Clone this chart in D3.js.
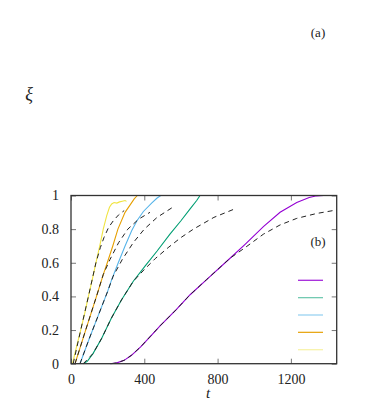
<!DOCTYPE html>
<html>
<head>
<meta charset="utf-8">
<script src="https://cdn.jsdelivr.net/npm/d3@7"></script>
<style>
body { margin: 0; background: #fff; }
</style>
</head>
<body>
<svg width="374" height="403"></svg>
<script>
let svg = d3.select('svg');
const serif = 'Liberation Serif, serif';

// colours of the five runs (legend order, top to bottom)
const colors = ['#9400d3', '#009e73', '#56b4e9', '#e69f00', '#f0e442'];

// measured curves [t, xi]
const purple = [[213,0],[250,0.005],[290,0.02],[330,0.05],[380,0.1],[431,0.16],[486,0.225],[573,0.32],[650,0.41],[740,0.5],[868,0.627],[950,0.71],[1050,0.815],[1141,0.9],[1232,0.958],[1300,0.988],[1341,0.998],[1380,1],[1450,1]];
const green = [[67,0],[90,0.015],[120,0.06],[167,0.15],[220,0.27],[276,0.38],[340,0.49],[404,0.58],[470,0.67],[540,0.77],[600,0.85],[650,0.92],[686,0.97],[704,1],[822,1]];
const blue = [[49,0],[100,0.15],[150,0.29],[200,0.43],[222,0.5],[258,0.6],[295,0.7],[331,0.79],[360,0.85],[395,0.905],[440,0.955],[470,0.985],[490,1],[520,1]];
const orange = [[22,0],[80,0.2],[139,0.4],[176,0.53],[198,0.6],[228,0.7],[256,0.8],[295,0.9],[320,0.94],[345,0.98],[362,1]];
const yellow = [[8,0],[30,0.1],[53,0.2],[75,0.3],[95,0.4],[116,0.5],[136,0.6],[157,0.7],[176,0.8],[195,0.88],[210,0.93],[222,0.95],[235,0.958],[250,0.955],[265,0.962],[280,0.966],[295,0.97],[303,0.965]];

// dashed model curves [t, xi]
const fitPurple = [[222,0],[250,0.005],[290,0.02],[330,0.05],[380,0.1],[431,0.16],[486,0.225],[573,0.32],[650,0.41],[740,0.5],[868,0.627],[950,0.69],[1050,0.77],[1141,0.825],[1232,0.864],[1340,0.893],[1460,0.916]];
const fitGreen = [[67,0],[120,0.06],[167,0.15],[220,0.27],[276,0.38],[340,0.49],[400,0.56],[460,0.625],[530,0.69],[600,0.75],[668,0.8],[780,0.87],[904,0.925]];
const fitBlue = [[49,0],[100,0.15],[150,0.29],[200,0.43],[230,0.52],[280,0.62],[340,0.72],[400,0.8],[470,0.87],[555,0.93]];
const fitOrange = [[22,0],[80,0.2],[139,0.4],[176,0.53],[213,0.62],[260,0.72],[310,0.8],[370,0.86],[431,0.9]];
const fitYellow = [[12,0],[53,0.2],[95,0.4],[136,0.6],[160,0.69],[180,0.75],[205,0.81],[231,0.85],[260,0.885],[290,0.91]];

const runs = [purple, green, blue, orange, yellow];
const fits = [fitPurple, fitGreen, fitBlue, fitOrange, fitYellow];

const xTicks = [0, 400, 800, 1200];
const yTicks = [0, 0.2, 0.4, 0.6, 0.8, 1];

let x = d3.scaleLinear().domain([0, 1450]).range([71, 336.7]);
let y = d3.scaleLinear().domain([0, 1]).range([363.7, 195.5]);

svg.append('clipPath').attr('id', 'plot')
    .append('rect')
    .attr('x', x(0)).attr('y', y(1) - 1)
    .attr('width', x(1450) - x(0)).attr('height', y(0) - y(1) + 2);

let line = d3.line().x(d => x(d[0])).y(d => y(d[1]));

let g = svg.append('g').attr('clip-path', 'url(#plot)');

g.selectAll('.run')
    .data(runs)
    .enter()
    .append('path')
    .attr('fill', 'none')
    .attr('stroke', (d, i) => colors[i])
    .attr('stroke-width', 1.1)
    .attr('d', line);

g.selectAll('.fit')
    .data(fits)
    .enter()
    .append('path')
    .attr('fill', 'none')
    .attr('stroke', '#222')
    .attr('stroke-width', 1)
    .attr('stroke-dasharray', '5,4')
    .attr('d', line);

// ticks pointing inward, on all four sides
let axisBottom = d3.axisBottom(x).tickValues(xTicks).tickSizeInner(-5).tickSizeOuter(0).tickPadding(10).tickFormat(d3.format('d'));
let axisTop = d3.axisTop(x).tickValues(xTicks).tickSizeInner(-5).tickSizeOuter(0).tickFormat('');
let axisLeft = d3.axisLeft(y).tickValues(yTicks).tickSizeInner(-5).tickSizeOuter(0).tickPadding(12).tickFormat(d3.format('~g'));
let axisRight = d3.axisRight(y).tickValues(yTicks).tickSizeInner(-5).tickSizeOuter(0).tickFormat('');

[[axisBottom, `translate(0,${y(0)})`], [axisTop, `translate(0,${y(1)})`],
 [axisLeft, `translate(${x(0)},0)`], [axisRight, `translate(${x(1450)},0)`]].forEach(function(a) {
    let ax = svg.append('g').attr('transform', a[1]).call(a[0]);
    ax.attr('font-family', serif).attr('font-size', 14);
    ax.select('.domain').remove();
    ax.selectAll('line').attr('stroke', '#777');
    ax.selectAll('text').attr('fill', '#222');
});

svg.append('rect')
    .attr('x', x(0)).attr('y', y(1))
    .attr('width', x(1450) - x(0)).attr('height', y(0) - y(1))
    .attr('fill', 'none').attr('stroke', '#333').attr('stroke-width', 1.3);

// legend lines (no labels)
svg.selectAll('.key')
    .data(colors)
    .enter()
    .append('line')
    .attr('x1', 298).attr('x2', 323)
    .attr('y1', (d, i) => 280.3 + i * 17.35)
    .attr('y2', (d, i) => 280.3 + i * 17.35)
    .attr('stroke', d => d)
    .attr('stroke-opacity', (d, i) => [0.85, 0.55, 0.6, 0.9, 0.45][i])
    .attr('stroke-width', 1.3);

let label = (tx, ty, size, str, italic) => svg.append('text')
    .attr('x', tx).attr('y', ty).attr('text-anchor', 'middle')
    .attr('font-family', serif).attr('font-size', size)
    .attr('font-style', italic ? 'italic' : 'normal')
    .attr('fill', '#222').text(str);

label(318, 246, 13, '(b)');
label(318, 37, 13, '(a)');
label(29, 100, 18, 'ξ', true);
label(208, 398, 15, 't', true);
</script>
</body>
</html>
